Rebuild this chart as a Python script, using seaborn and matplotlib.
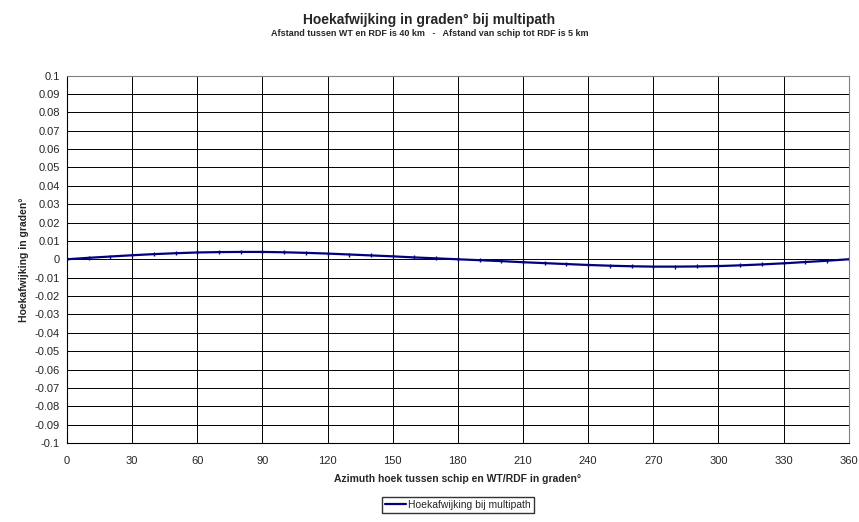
import numpy as np
import pandas as pd
import seaborn as sns
import matplotlib.pyplot as plt

# data
azimuth = [0, 10, 20, 30, 40, 50, 60, 70, 80, 90, 100, 110, 120, 130, 140, 150, 160, 170, 180,
           190, 200, 210, 220, 230, 240, 250, 260, 270, 280, 290, 300, 310, 320, 330, 340, 350, 360]
afwijking = [0, 0.0008, 0.0015, 0.0022, 0.0028, 0.0033, 0.0037, 0.0039, 0.0040, 0.0040, 0.0038,
             0.0035, 0.0031, 0.0026, 0.0021, 0.0016, 0.0010, 0.0005, 0,
             -0.0005, -0.0010, -0.0016, -0.0021, -0.0026, -0.0031, -0.0035, -0.0038, -0.0040,
             -0.0040, -0.0039, -0.0037, -0.0033, -0.0028, -0.0022, -0.0015, -0.0008, 0]
x_ticks = [0, 30, 60, 90, 120, 150, 180, 210, 240, 270, 300, 330, 360]
y_ticks = [0.1, 0.09, 0.08, 0.07, 0.06, 0.05, 0.04, 0.03, 0.02, 0.01, 0,
           -0.01, -0.02, -0.03, -0.04, -0.05, -0.06, -0.07, -0.08, -0.09, -0.1]
y_labels = ["0.1", "0.09", "0.08", "0.07", "0.06", "0.05", "0.04", "0.03", "0.02", "0.01", "0",
            "-0.01", "-0.02", "-0.03", "-0.04", "-0.05", "-0.06", "-0.07", "-0.08", "-0.09", "-0.1"]

df = pd.DataFrame({"azimuth": azimuth, "afwijking": afwijking})

sns.set_style("white")
plt.rcParams['font.family'] = ['Liberation Sans', 'DejaVu Sans']

fig = plt.figure(figsize=(8.59, 5.22), dpi=100)
ax = fig.add_axes([0.078, 0.1513, 0.910, 0.704])

sns.lineplot(data=df, x="azimuth", y="afwijking", ax=ax, color="#000080", linewidth=1.6,
             marker="|", markersize=3, markeredgewidth=1, markeredgecolor="#000080",
             label="Hoekafwijking bij multipath")

ax.set_xlim(0, 360)
ax.set_ylim(-0.1, 0.1)
ax.set_xticks(x_ticks)
ax.set_xticklabels([str(t) for t in x_ticks])
ax.set_yticks(y_ticks)
ax.set_yticklabels(y_labels)
ax.tick_params(axis="both", labelsize=8, length=3, width=0.8, color="black", pad=2, direction="out")
ax.tick_params(axis="x", pad=6)
ax.grid(True, color="black", linewidth=0.7)
ax.set_axisbelow(True)
for s in ["top", "right"]:
    ax.spines[s].set_color("#808080")
    ax.spines[s].set_linewidth(0.8)
for s in ["left", "bottom"]:
    ax.spines[s].set_color("black")
    ax.spines[s].set_linewidth(0.8)

ax.set_xlabel("Azimuth hoek tussen schip en WT/RDF in graden°", fontsize=7.5, fontweight="bold", labelpad=6)
ax.set_ylabel("Hoekafwijking in graden°", fontsize=7.5, fontweight="bold", labelpad=4)

fig.text(0.5, 0.962, "Hoekafwijking in graden° bij multipath", ha="center", va="center",
         fontsize=10, fontweight="bold")
fig.text(0.5, 0.935, "Afstand tussen WT en RDF is 40 km   -   Afstand van schip tot RDF is 5 km",
         ha="center", va="center", fontsize=6.5, fontweight="bold")

ax.legend(loc="center", bbox_to_anchor=(0.5, -0.168), fontsize=7.5, frameon=True, fancybox=False,
          edgecolor="black", handlelength=2, handletextpad=0.2, borderpad=0.3, markerscale=0)

fig.savefig("out.png", dpi=100)
